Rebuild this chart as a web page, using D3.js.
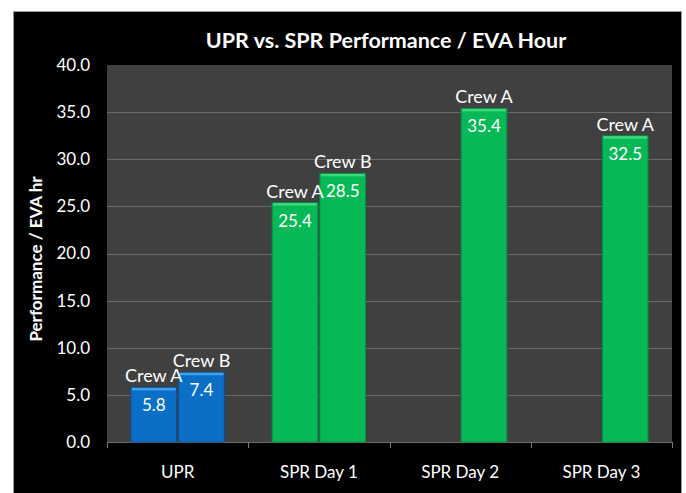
<!DOCTYPE html>
<html>
<head>
<meta charset="utf-8">
<script src="https://cdn.jsdelivr.net/npm/d3@7"></script>
<style>
  body { margin: 0; background: #fff; }
  text { font-family: Lato, "Open Sans", sans-serif; }
</style>
</head>
<body>
<div id="viz"></div>
<script>
const categories = ["UPR", "SPR Day 1", "SPR Day 2", "SPR Day 3"];
const seriesKeys = ["left", "right"];
// left slot is only used by UPR and Day 1
const leftValues = [5.8, 25.4, null, null];
const rightValues = [7.4, 28.5, 35.4, 32.5];
const leftLabels = ["Crew A", "Crew A", null, null];
const rightLabels = ["Crew B", "Crew B", "Crew A", "Crew A"];
const yTicks = [0, 5, 10, 15, 20, 25, 30, 35, 40];

const width = 686, height = 493;
const plot = { left: 107, top: 65, right: 672, bottom: 442 };

const svg = d3.select("#viz").append("svg")
  .attr("width", width)
  .attr("height", height);

// black frame
svg.append("rect")
  .attr("x", 13.5).attr("y", 11.5)
  .attr("width", 668).attr("height", 490)
  .attr("fill", "#000")
  .attr("stroke", "#9a9a9a");

svg.append("rect")
  .attr("x", plot.left).attr("y", plot.top)
  .attr("width", plot.right - plot.left)
  .attr("height", plot.bottom - plot.top)
  .attr("fill", "#404040");

const x = d3.scaleBand().domain(categories).range([plot.left, plot.right]);
const xInner = d3.scaleBand().domain(seriesKeys).range([0, x.bandwidth()])
  .paddingInner(0.04).paddingOuter(0.5);
const y = d3.scaleLinear().domain([0, 40]).range([plot.bottom, plot.top]);

// gridlines
svg.append("g")
  .selectAll("line")
  .data(yTicks.filter(d => d > 0 && d < 40))
  .join("line")
  .attr("x1", plot.left).attr("x2", plot.right)
  .attr("y1", d => Math.round(y(d)) + 0.5)
  .attr("y2", d => Math.round(y(d)) + 0.5)
  .attr("stroke", "#6a6a6a");

// y axis labels
const yAxis = svg.append("g")
  .attr("transform", `translate(${plot.left},0)`)
  .call(d3.axisLeft(y).tickValues(yTicks).tickFormat(d3.format(".1f")).tickSize(0).tickPadding(17));
yAxis.select(".domain").remove();
yAxis.selectAll("text")
  .attr("fill", "#fff")
  .style("font-size", "17px")
  .style("font-family", "Lato, sans-serif");

// x axis
const xAxis = svg.append("g")
  .attr("transform", `translate(0,${plot.bottom})`)
  .call(d3.axisBottom(x).tickSize(0).tickPadding(24));
xAxis.select(".domain").attr("stroke", "#6a6a6a");
xAxis.selectAll("text")
  .attr("fill", "#fff")
  .style("font-size", "17px")
  .style("font-family", "Lato, sans-serif");

// category boundary ticks
const bounds = categories.map(c => x(c)).concat([x(categories[categories.length - 1]) + x.bandwidth()]);
svg.append("g")
  .selectAll("line")
  .data(bounds)
  .join("line")
  .attr("x1", d => Math.round(d) + 0.5).attr("x2", d => Math.round(d) + 0.5)
  .attr("y1", plot.bottom).attr("y2", plot.bottom + 6)
  .attr("stroke", "#7a7a7a");

const bars = [];
categories.forEach((c, i) => {
  if (leftValues[i] != null) bars.push({ cat: c, key: "left", value: leftValues[i], label: leftLabels[i], group: i });
  if (rightValues[i] != null) bars.push({ cat: c, key: "right", value: rightValues[i], label: rightLabels[i], group: i });
});

const colors = d => d.cat === "UPR"
  ? { main: "#0b6fc6", light: "#3ea2ee", dark: "#0a4f90" }
  : { main: "#07b857", light: "#3ed77c", dark: "#058a40" };

const barG = svg.append("g");
const bx = d => x(d.cat) + xInner(d.key);

barG.selectAll("rect.bar")
  .data(bars)
  .join("rect")
  .attr("class", "bar")
  .attr("x", d => bx(d))
  .attr("y", d => y(d.value))
  .attr("width", xInner.bandwidth())
  .attr("height", d => y(0) - y(d.value))
  .attr("fill", d => colors(d).main)
  .attr("stroke", d => colors(d).dark)
  .attr("stroke-width", 1);

// highlight on top of each bar
barG.selectAll("rect.top")
  .data(bars)
  .join("rect")
  .attr("class", "top")
  .attr("x", d => bx(d) + 1)
  .attr("y", d => y(d.value) + 0.5)
  .attr("width", xInner.bandwidth() - 2)
  .attr("height", 2.5)
  .attr("fill", d => colors(d).light);

barG.selectAll("text.crew")
  .data(bars)
  .join("text")
  .attr("class", "crew")
  .attr("x", d => bx(d) + xInner.bandwidth() / 2)
  .attr("y", d => y(d.value) - 5)
  .attr("text-anchor", "middle")
  .attr("fill", "#fff")
  .style("font-size", "18px")
  .text(d => d.label);

barG.selectAll("text.val")
  .data(bars)
  .join("text")
  .attr("class", "val")
  .attr("x", d => bx(d) + xInner.bandwidth() / 2)
  .attr("y", d => y(d.value) + 24)
  .attr("text-anchor", "middle")
  .attr("fill", "#fff")
  .style("font-size", "17px")
  .text(d => d.value.toFixed(1));

svg.append("text")
  .attr("x", 386).attr("y", 48)
  .attr("text-anchor", "middle")
  .attr("fill", "#fff")
  .style("font-size", "21.5px")
  .style("font-weight", "bold")
  .text("UPR vs. SPR Performance / EVA Hour");

svg.append("text")
  .attr("transform", "translate(42,259) rotate(-90)")
  .attr("text-anchor", "middle")
  .attr("fill", "#fff")
  .style("font-size", "17px")
  .style("font-weight", "bold")
  .text("Performance / EVA hr");
</script>
</body>
</html>
